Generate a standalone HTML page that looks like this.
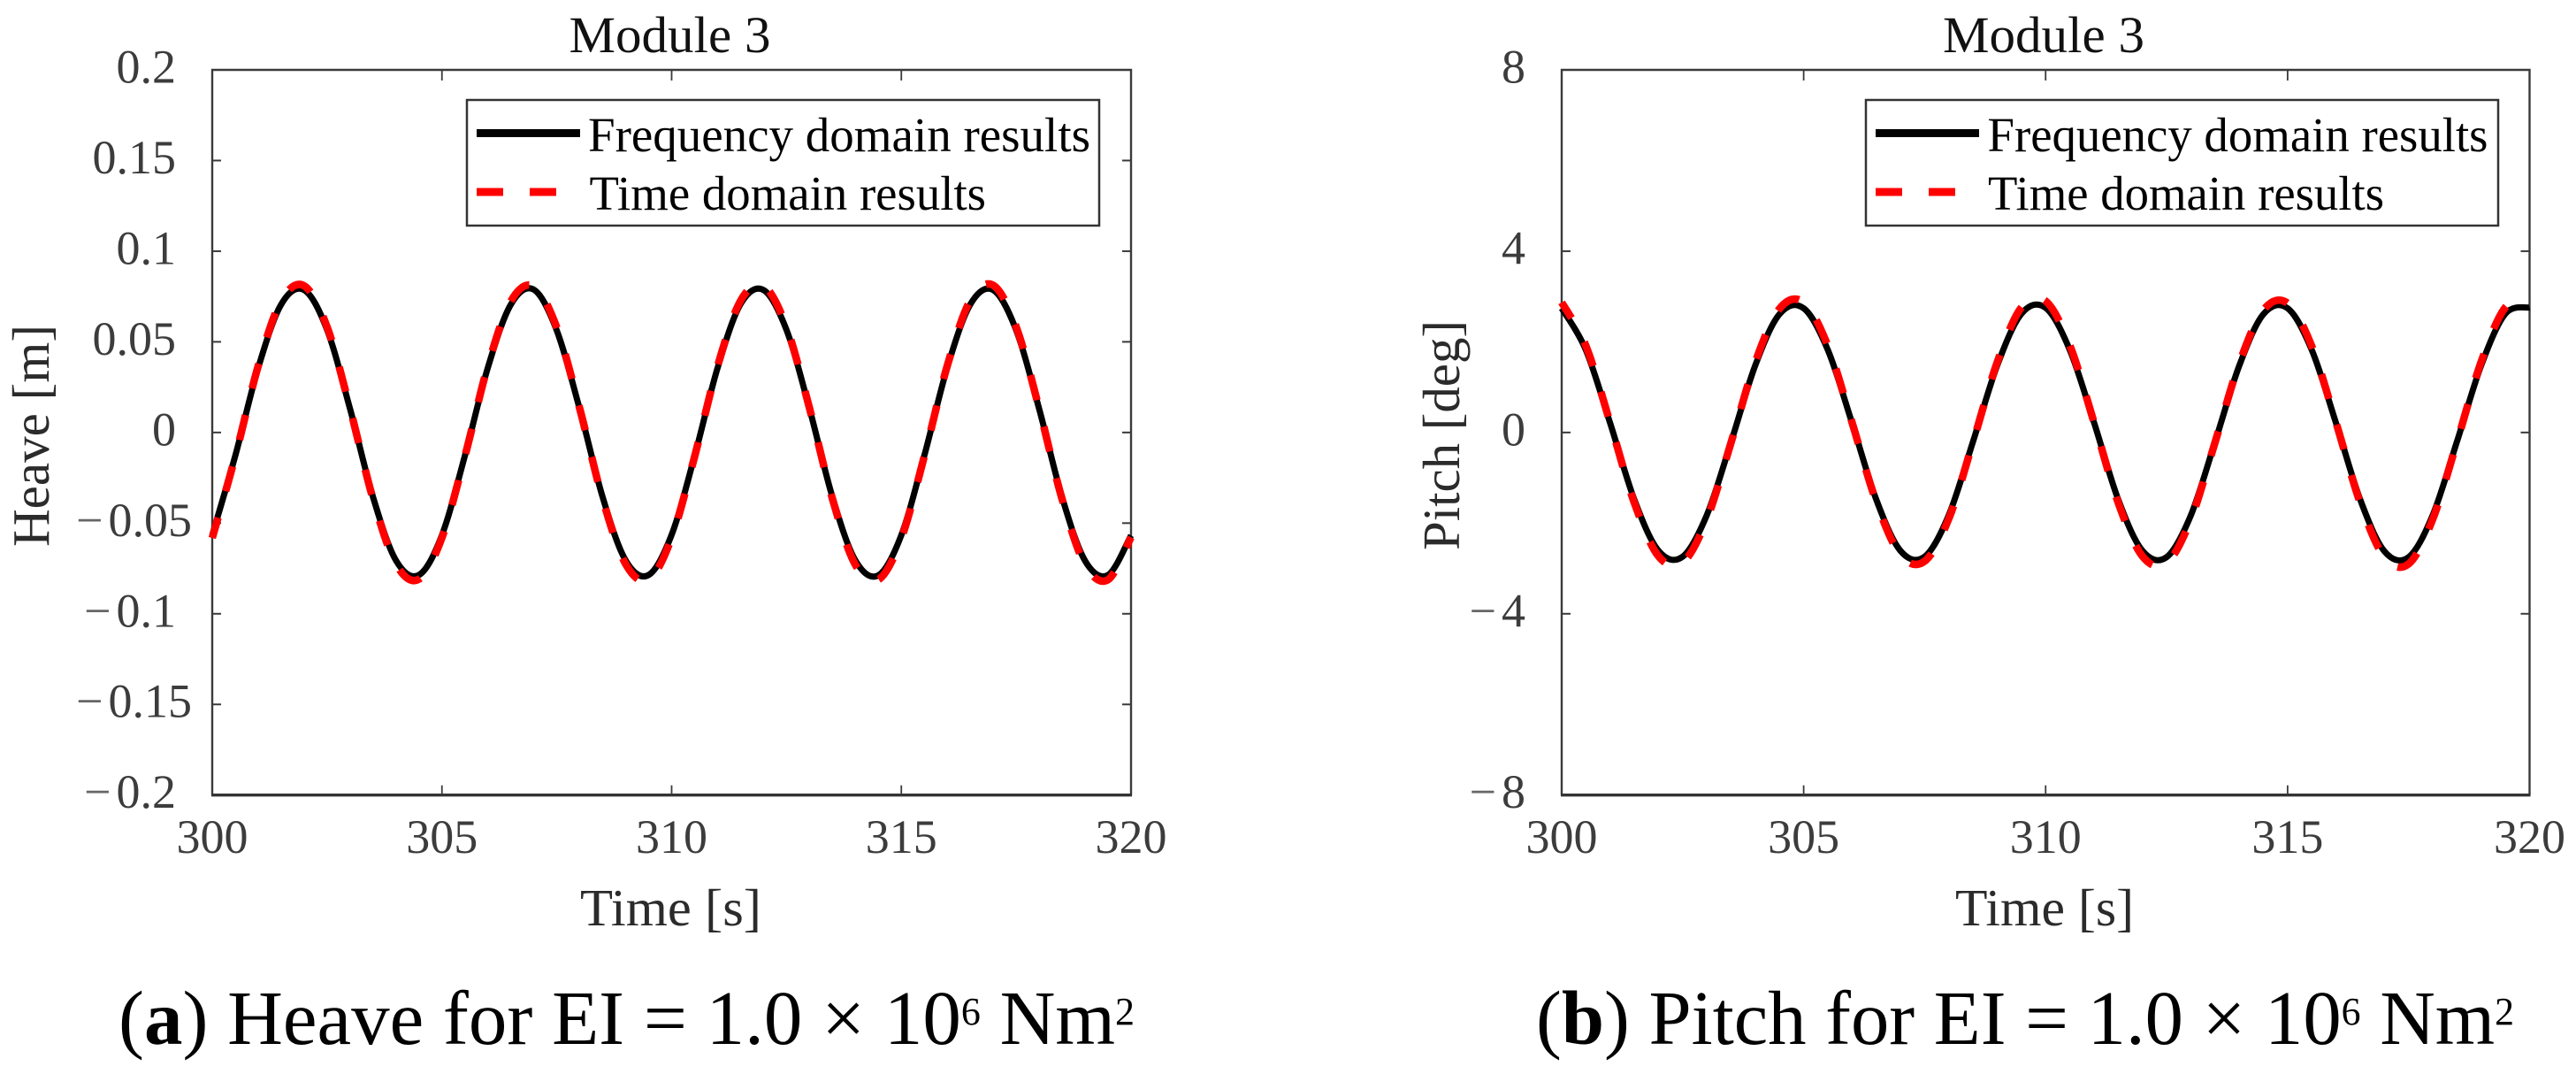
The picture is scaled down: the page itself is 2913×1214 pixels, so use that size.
<!DOCTYPE html>
<html lang="en">
<head>
<meta charset="utf-8">
<title>Module 3 heave and pitch responses</title>
<style>
html,body{margin:0;padding:0;background:#fff;width:2913px;height:1214px;overflow:hidden}
svg{display:block}
text{font-family:"Liberation Serif",serif}
.tick{font-size:54px;fill:#3c3c3c}
.axis-title{font-size:59px;fill:#2b2b2b}
.title{font-size:58px;fill:#111}
.legend{font-size:55px;fill:#000}
.caption{font-size:87px;fill:#000}
</style>
</head>
<body>
<svg id="figure" xmlns="http://www.w3.org/2000/svg" width="2913" height="1214" viewBox="0 0 2913 1214">
  <rect width="2913" height="1214" fill="#fff"/>
  <g id="panel-a"></g>
  <g id="panel-b"></g>

  <text class="title" x="643.5" y="59" textLength="228" lengthAdjust="spacingAndGlyphs">Module 3</text>
  <text class="axis-title" x="656" y="1046" textLength="205" lengthAdjust="spacingAndGlyphs">Time [s]</text>
  <text class="axis-title" transform="translate(55,618) rotate(-90)" textLength="251" lengthAdjust="spacingAndGlyphs">Heave [m]</text>
  <text class="caption" x="134" y="1180" textLength="1149" lengthAdjust="spacingAndGlyphs">(<tspan font-weight="bold">a</tspan>) Heave for EI = 1.0 × 10<tspan font-size="44" dy="-22">6</tspan><tspan dy="22"> Nm</tspan><tspan font-size="44" dy="-22">2</tspan></text>

  <text class="title" x="2197" y="59" textLength="228" lengthAdjust="spacingAndGlyphs">Module 3</text>
  <text class="axis-title" x="2211" y="1046" textLength="202" lengthAdjust="spacingAndGlyphs">Time [s]</text>
  <text class="axis-title" transform="translate(1650,622) rotate(-90)" textLength="260" lengthAdjust="spacingAndGlyphs">Pitch [deg]</text>
  <text class="caption" x="1737" y="1180" textLength="1106" lengthAdjust="spacingAndGlyphs">(<tspan font-weight="bold">b</tspan>) Pitch for EI = 1.0 × 10<tspan font-size="44" dy="-22">6</tspan><tspan dy="22"> Nm</tspan><tspan font-size="44" dy="-22">2</tspan></text>

  <g>
    <rect x="528" y="113" width="715" height="142" fill="#fff" stroke="#333" stroke-width="2.5"/>
    <line x1="539" x2="656" y1="150.5" y2="150.5" stroke="#000" stroke-width="9"/>
    <line x1="539" x2="656" y1="217" y2="217" stroke="#f00" stroke-width="9" stroke-dasharray="30 30"/>
    <text class="legend" x="665" y="171" textLength="568" lengthAdjust="spacingAndGlyphs">Frequency domain results</text>
    <text class="legend" x="666.5" y="237" textLength="448.5" lengthAdjust="spacingAndGlyphs">Time domain results</text>
  </g>
  <g>
    <rect x="2110" y="113" width="715" height="142" fill="#fff" stroke="#333" stroke-width="2.5"/>
    <line x1="2121" x2="2238" y1="150.5" y2="150.5" stroke="#000" stroke-width="9"/>
    <line x1="2121" x2="2238" y1="217" y2="217" stroke="#f00" stroke-width="9" stroke-dasharray="30 30"/>
    <text class="legend" x="2247.5" y="171" textLength="566" lengthAdjust="spacingAndGlyphs">Frequency domain results</text>
    <text class="legend" x="2248" y="237" textLength="448" lengthAdjust="spacingAndGlyphs">Time domain results</text>
  </g>
</svg>
<script>
const timeSeconds = [300,300.5,301,301.5,302,302.5,303,303.5,304,304.5,305,305.5,306,306.5,307,307.5,308,308.5,309,309.5,310,310.5,311,311.5,312,312.5,313,313.5,314,314.5,315,315.5,316,316.5,317,317.5,318,318.5,319,319.5,320];
const heaveFrequency = [-0.0566,-0.0130,0.0356,0.0706,0.0786,0.0566,0.0130,-0.0356,-0.0706,-0.0786,-0.0566,-0.0128,0.0358,0.0706,0.0788,0.0562,0.0128,-0.0358,-0.0706,-0.0786,-0.0564,-0.0130,0.0356,0.0708,0.0786,0.0566,0.0132,-0.0356,-0.0706,-0.0788,-0.0566,-0.0128,0.0358,0.0706,0.0786,0.0564,0.0130,-0.0358,-0.0708,-0.0786,-0.0568];
const heaveTime = [-0.0582,-0.0133,0.0366,0.0726,0.0809,0.0582,0.0133,-0.0366,-0.0726,-0.0809,-0.0580,-0.0131,0.0368,0.0724,0.0806,0.0578,0.0131,-0.0368,-0.0726,-0.0812,-0.0580,-0.0133,0.0366,0.0726,0.0809,0.0582,0.0135,-0.0366,-0.0730,-0.0812,-0.0584,-0.0131,0.0368,0.0728,0.0812,0.0582,0.0133,-0.0368,-0.0730,-0.0812,-0.0578];
const pitchFrequency = [2.74,1.82,0.21,-1.48,-2.61,-2.74,-1.82,-0.21,1.48,2.61,2.74,1.82,0.21,-1.48,-2.61,-2.74,-1.82,-0.20,1.48,2.62,2.75,1.82,0.22,-1.48,-2.61,-2.75,-1.83,-0.21,1.47,2.61,2.74,1.82,0.21,-1.48,-2.62,-2.75,-1.82,-0.20,1.48,2.62,2.76];
const pitchTime = [2.87,1.91,0.22,-1.55,-2.73,-2.87,-1.91,-0.22,1.55,2.73,2.87,1.91,0.22,-1.53,-2.70,-2.84,-1.90,-0.21,1.55,2.76,2.90,1.92,0.22,-1.55,-2.73,-2.88,-1.92,-0.22,1.52,2.70,2.85,1.90,0.22,-1.55,-2.75,-2.90,-1.91,-0.21,1.56,2.76,2.90];
const xTickValues = [300,305,310,315,320];
const xTickLabels = ['300','305','310','315','320'];
const heaveTickValues = [0.2,0.15,0.1,0.05,0,-0.05,-0.1,-0.15,-0.2];
const heaveTickLabels = ['0.2','0.15','0.1','0.05','0','-0.05','-0.1','-0.15','-0.2'];
const pitchTickValues = [8,4,0,-4,-8];
const pitchTickLabels = ['8','4','0','-4','-8'];

const SVG_NS = 'http://www.w3.org/2000/svg';

function make(parent, tag, attrs) {
  const el = document.createElementNS(SVG_NS, tag);
  for (const k in attrs) el.setAttribute(k, attrs[k]);
  parent.appendChild(el);
  return el;
}

function smoothPath(xs, ys) {
  let d = 'M' + xs[0].toFixed(2) + ' ' + ys[0].toFixed(2);
  for (let i = 0; i < xs.length - 1; i++) {
    const a = Math.max(i - 1, 0), b = i + 1, c = Math.min(i + 2, xs.length - 1);
    const c1x = xs[i] + (xs[b] - xs[a]) / 6, c1y = ys[i] + (ys[b] - ys[a]) / 6;
    const c2x = xs[b] - (xs[c] - xs[i]) / 6, c2y = ys[b] - (ys[c] - ys[i]) / 6;
    d += 'C' + c1x.toFixed(2) + ' ' + c1y.toFixed(2) + ' ' + c2x.toFixed(2) + ' ' + c2y.toFixed(2) + ' ' + xs[b].toFixed(2) + ' ' + ys[b].toFixed(2);
  }
  return d;
}

function drawChart(cfg) {
  const g = document.getElementById(cfg.groupId);
  const left = cfg.left, right = cfg.right, top = 79, bottom = 898.7;
  const xAxis = t => left + (t - 300) / 20 * (right - left);
  const yAxis = v => bottom - (v - cfg.yMin) / (cfg.yMax - cfg.yMin) * (bottom - top);

  const box = make(g, 'path', {d: 'M' + left + ' ' + bottom + 'V' + top + 'H' + right + 'V' + bottom, fill: 'none', stroke: '#3a3a3a', 'stroke-width': 2.4});
  
  
  const base = make(g, 'line', {x1: left - 1, x2: right + 1, y1: bottom, y2: bottom, stroke: '#333', 'stroke-width': 3.4});
  
  

  xTickValues.forEach((t, i) => {
    const x = xAxis(t);
    if (i > 0 && i < xTickValues.length - 1) {
      const a = make(g, 'line', {x1: x, x2: x, y1: bottom, y2: bottom - 11, stroke: '#3a3a3a', 'stroke-width': 1.8});
      
      
      const b = make(g, 'line', {x1: x, x2: x, y1: top, y2: top + 12, stroke: '#3a3a3a', 'stroke-width': 1.8});
      
      
    }
    const label = make(g, 'text', {class: 'tick', x: x, y: 964, 'text-anchor': 'middle'});
    
    
    label.textContent = xTickLabels[i];
  });

  cfg.yTicks.forEach((v, i) => {
    const y = yAxis(v);
    if (i > 0 && i < cfg.yTicks.length - 1) {
      const a = make(g, 'line', {x1: left, x2: left + 10, y1: y, y2: y, stroke: '#3a3a3a', 'stroke-width': 2});
      
      
      const b = make(g, 'line', {x1: right, x2: right - 10, y1: y, y2: y, stroke: '#3a3a3a', 'stroke-width': 2});
      
      
    }
    const raw = cfg.yLabels[i];
    const negative = raw.charAt(0) === '-';
    const edge = left - (negative && raw.length >= 5 ? 23 : 41);
    const label = make(g, 'text', {class: 'tick', x: edge, y: y + 14.5, 'text-anchor': 'end'});
    
    
    if (negative) {
      const m = make(label, 'tspan', {fill: '#666'});
      m.textContent = '\u2212';
      const r = make(label, 'tspan', {dx: 6});
      r.textContent = raw.slice(1);
    } else {
      label.textContent = raw;
    }
  });

  const xs = timeSeconds.map(xAxis);
  const black = make(g, 'path', {d: smoothPath(xs, cfg.frequency.map(yAxis)), fill: 'none', stroke: '#000', 'stroke-width': 7, 'stroke-linejoin': 'round'});
  
  
  const red = make(g, 'path', {d: smoothPath(xs, cfg.time.map(yAxis)), fill: 'none', stroke: '#f00', 'stroke-width': 8.5, 'stroke-dasharray': cfg.dash, 'stroke-dashoffset': cfg.dashOffset});
  
  
}

drawChart({groupId: 'panel-a', prefix: 'heave', left: 240, right: 1279, yMin: -0.2, yMax: 0.2, yTicks: heaveTickValues, yLabels: heaveTickLabels, frequency: heaveFrequency, time: heaveTime, dash: '29 31', dashOffset: 5});
drawChart({groupId: 'panel-b', prefix: 'pitch', left: 1766, right: 2860.5, yMin: -8, yMax: 8, yTicks: pitchTickValues, yLabels: pitchTickLabels, frequency: pitchFrequency, time: pitchTime, dash: '29 30.5', dashOffset: 8});
</script>
</body>
</html>
